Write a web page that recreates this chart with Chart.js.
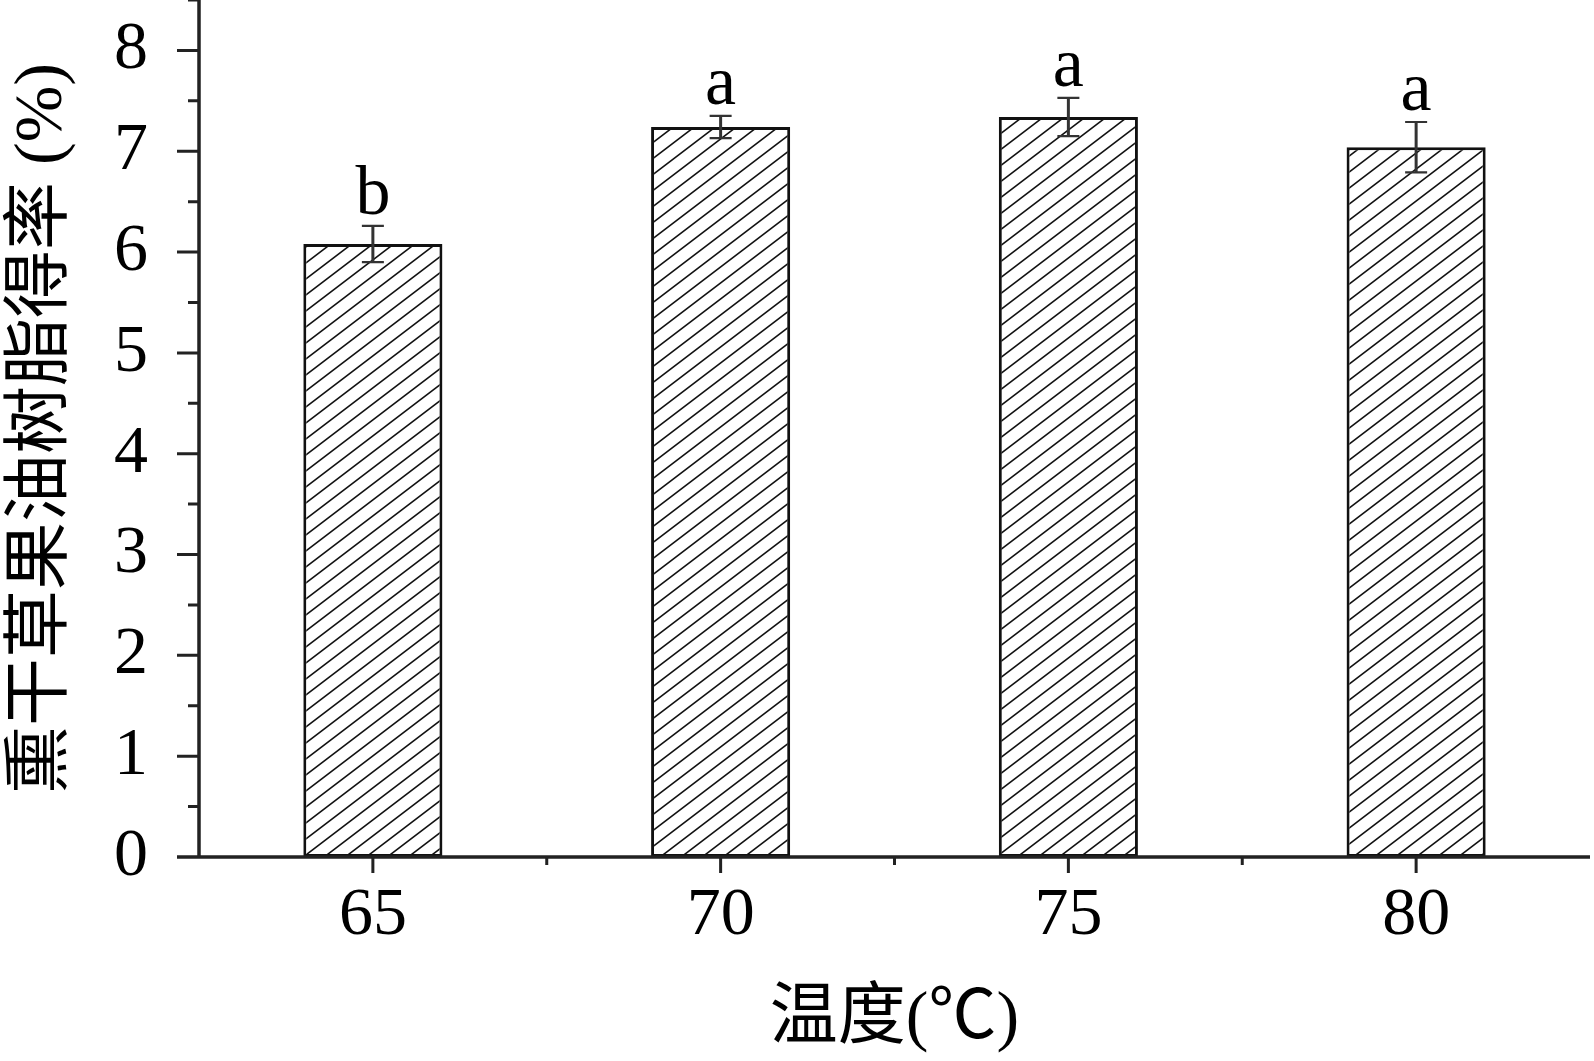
<!DOCTYPE html>
<html>
<head>
<meta charset="utf-8">
<title>温度与得率</title>
<script src="https://cdn.jsdelivr.net/npm/chart.js@4.4.1/dist/chart.umd.min.js"></script>
<style>
  html, body { margin: 0; padding: 0; background: #fff; }
  #wrap { width: 1594px; height: 1061px; }
</style>
</head>
<body>
<div id="wrap"><canvas id="yieldChart" width="1594" height="1061"></canvas></div>
<script>
// Data
const categories = ['65', '70', '75', '80'];
const yieldValues = [6.08, 7.24, 7.34, 7.04];
const errorValues = [0.18, 0.11, 0.19, 0.25];
const groupLetters = ['b', 'a', 'a', 'a'];

const FONT = '"Liberation Serif", "Times New Roman", "Noto Sans CJK SC", serif';
const AXIS_COLOR = '#222';

// Diagonal "/" hatch used as bar fill
function makeHatch() {
    const w = 21, h = 16;
    const c = document.createElement('canvas');
    c.width = w;
    c.height = h;
    const g = c.getContext('2d');
    g.fillStyle = '#fff';
    g.fillRect(0, 0, w, h);
    g.strokeStyle = '#111';
    g.lineWidth = 1.6;
    for (let k = 0; k <= 2; k++) {
        // line x/w + y/h = k
        g.beginPath();
        g.moveTo(-w, (k + 1) * h);
        g.lineTo(2 * w, (k - 2) * h);
        g.stroke();
    }
    return g.createPattern(c, 'repeat');
}

// Axis lines, ticks, error bars and letters
const decorPlugin = {
    id: 'decor',
    afterDatasetsDraw(chart) {
        const { ctx, chartArea, scales: { x, y } } = chart;
        const y0 = y.getPixelForValue(0);
        ctx.save();

        // axis lines
        ctx.strokeStyle = AXIS_COLOR;
        ctx.lineWidth = 3.5;
        ctx.beginPath();
        ctx.moveTo(chartArea.left, chartArea.top);
        ctx.lineTo(chartArea.left, y0);
        ctx.moveTo(chartArea.left - 22, y0);
        ctx.lineTo(chartArea.right, y0);
        ctx.stroke();

        // y ticks (major on integers, minor on halves)
        ctx.lineWidth = 3;
        ctx.beginPath();
        for (let v = 0.5; v <= 8.5; v += 0.5) {
            const py = y.getPixelForValue(v);
            const len = Number.isInteger(v) ? 22 : 11;
            ctx.moveTo(chartArea.left - len, py);
            ctx.lineTo(chartArea.left, py);
        }
        // x ticks (major at bars, minor between)
        const step = x.getPixelForValue(1) - x.getPixelForValue(0);
        categories.forEach((c, i) => {
            const px = x.getPixelForValue(i);
            ctx.moveTo(px, y0);
            ctx.lineTo(px, y0 + 16);
            if (i > 0) {
                ctx.moveTo(px - step / 2, y0);
                ctx.lineTo(px - step / 2, y0 + 8);
            }
        });
        ctx.stroke();

        // error bars
        ctx.strokeStyle = '#333';
        yieldValues.forEach((v, i) => {
            const px = x.getPixelForValue(i);
            const top = y.getPixelForValue(v + errorValues[i]);
            const bot = y.getPixelForValue(v - errorValues[i]);
            ctx.lineWidth = 3;
            ctx.beginPath();
            ctx.moveTo(px, top);
            ctx.lineTo(px, bot);
            ctx.stroke();
            ctx.lineWidth = 2.2;
            ctx.beginPath();
            ctx.moveTo(px - 11, top);
            ctx.lineTo(px + 11, top);
            ctx.moveTo(px - 11, bot);
            ctx.lineTo(px + 11, bot);
            ctx.stroke();

            // significance letters
            ctx.fillStyle = '#000';
            ctx.font = '70px ' + FONT;
            ctx.textAlign = 'center';
            ctx.textBaseline = 'alphabetic';
            ctx.fillText(groupLetters[i], px, top - 12);
        });
        ctx.restore();
    }
};

const ctx = document.getElementById('yieldChart').getContext('2d');

const chart = new Chart(ctx, {
    type: 'bar',
    data: {
        labels: categories,
        datasets: [{
            data: yieldValues,
            backgroundColor: makeHatch(),
            borderColor: '#111',
            borderWidth: 3,
            borderSkipped: false,
            barPercentage: 0.4,
            categoryPercentage: 1.0
        }]
    },
    options: {
        responsive: false,
        animation: false,
        layout: { padding: { top: 0, right: 4, left: 0, bottom: 0 } },
        plugins: {
            legend: { display: false },
            tooltip: { enabled: false }
        },
        scales: {
            x: {
                type: 'category',
                offset: true,
                grid: { display: false, drawTicks: false },
                border: { display: false },
                ticks: {
                    color: '#000',
                    padding: 18,
                    font: { family: FONT, size: 68 }
                },
                title: {
                    display: true,
                    text: '温度(℃)',
                    color: '#000',
                    padding: 0,
                    font: { family: FONT, size: 68 }
                },
                afterFit: (scale) => {
                    scale.height = 204;
                    scale.paddingLeft = 0;
                    scale.paddingRight = 0;
                }
            },
            y: {
                min: 0,
                max: 8.5,
                grid: { display: false, drawTicks: false },
                border: { display: false },
                ticks: {
                    stepSize: 0.5,
                    autoSkip: false,
                    color: '#000',
                    padding: 51,
                    font: { family: FONT, size: 68 },
                    callback: (v) => Number.isInteger(v) ? v : ''
                },
                title: {
                    display: true,
                    text: '熏干草果油树脂得率 (%)',
                    color: '#000',
                    padding: { top: 2, bottom: 0 },
                    font: { family: FONT, size: 68 }
                },
                afterFit: (scale) => {
                    scale.width = 199;
                    scale.paddingTop = 0;
                    scale.paddingBottom = 0;
                }
            }
        }
    },
    plugins: [decorPlugin]
});
</script>
</body>
</html>
